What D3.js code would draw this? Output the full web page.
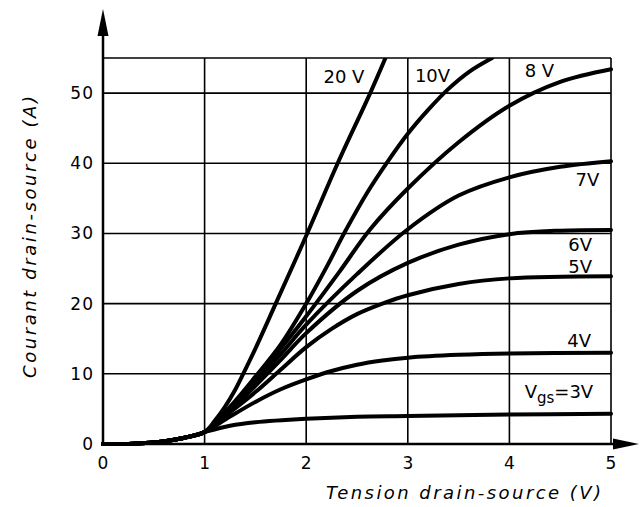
<!DOCTYPE html>
<html>
<head>
<meta charset="utf-8">
<script src="https://cdn.jsdelivr.net/npm/d3@7"></script>
<style>
  body { margin: 0; background: #fff; }
  svg { display: block; }
  text { font-family: "DejaVu Sans", "Liberation Sans", sans-serif; fill: #000; }
  .grid line { stroke: #000; stroke-width: 1.6; }
  .curve { fill: none; stroke: #000; stroke-width: 4; stroke-linecap: round; stroke-linejoin: round; }
</style>
</head>
<body>
<svg width="640" height="507"></svg>
<script>
// shared foot of every curve (all gate voltages overlap below 1 V)
var foot = [[0, 0], [0.3, 0.05], [0.5, 0.2], [0.7, 0.6], [0.85, 1.05], [1, 1.7]];

var vgs3 = [[1.25, 2.6], [1.5, 3.1], [2, 3.6], [2.5, 3.9], [3, 4.0], [4, 4.2], [5, 4.3]];
var vgs4 = [[1.25, 3.9], [1.5, 6.0], [1.75, 7.8], [2, 9.2], [2.25, 10.4], [2.5, 11.3], [2.75, 11.9], [3, 12.3], [3.5, 12.7], [4, 12.9], [5, 13.0]];
var vgs5 = [[1.25, 4.5], [1.5, 7.4], [1.75, 10.6], [2, 13.8], [2.25, 16.4], [2.5, 18.5], [2.75, 20.0], [3, 21.2], [3.5, 22.8], [4, 23.6], [5, 23.9]];
var vgs6 = [[1.25, 4.8], [1.5, 8.3], [1.75, 12], [2, 15.8], [2.5, 21.8], [3, 25.8], [3.5, 28.4], [4, 29.9], [4.5, 30.4], [5, 30.5]];
var vgs7 = [[1.25, 5.0], [1.5, 8.8], [1.75, 12.8], [2, 17.0], [2.5, 24.2], [3, 30.6], [3.5, 35.4], [4, 38.0], [4.5, 39.5], [5, 40.3]];
var vgs8 = [[1.25, 5.1], [1.5, 9.1], [1.75, 13.6], [2, 18.2], [2.33, 24.6], [2.63, 30.6], [3, 36.4], [3.5, 43.0], [4, 48.2], [4.5, 51.6], [5, 53.4]];
var vgs10 = [[1.25, 5.3], [1.5, 9.6], [1.75, 14.2], [2, 20.0], [2.2, 25.2], [2.38, 30.2], [2.6, 35.8], [2.8, 40.2], [3, 44.2], [3.2, 47.6], [3.4, 50.6], [3.6, 53.0], [3.83, 55]];
var vgs20 = [[1.1, 3.3], [1.2, 5.3], [1.3, 7.7], [1.38, 10], [1.5, 13.6], [1.7, 20], [2.01, 30], [2.31, 40], [2.63, 50], [2.78, 55]];

var series = [vgs3, vgs4, vgs5, vgs6, vgs7, vgs8, vgs10, vgs20];

var xTicks = [0, 1, 2, 3, 4, 5];
var yTicks = [0, 10, 20, 30, 40, 50];

// curve labels: text, anchor point in data units (x = left edge, y = baseline)
var labels = [
  { text: "20 V", x: 2.17, y: 51.5 },
  { text: "10V", x: 3.07, y: 51.6 },
  { text: "8 V", x: 4.15, y: 52.3 },
  { text: "7V", x: 4.65, y: 36.8 },
  { text: "6V", x: 4.58, y: 27.5 },
  { text: "5V", x: 4.58, y: 24.4 },
  { text: "4V", x: 4.57, y: 13.8 }
];

var svg = d3.select("svg");

var x = d3.scaleLinear().domain([0, 5]).range([103, 611]);
var y = d3.scaleLinear().domain([0, 55]).range([444, 58]);

// grid
var grid = svg.append("g").attr("class", "grid");
grid.selectAll("line.v")
  .data(xTicks.slice(1))
  .enter().append("line")
  .attr("x1", function(d) { return x(d); })
  .attr("x2", function(d) { return x(d); })
  .attr("y1", y(0))
  .attr("y2", y(55));
grid.selectAll("line.h")
  .data(yTicks.slice(1).concat([55]))
  .enter().append("line")
  .attr("x1", x(0))
  .attr("x2", x(5))
  .attr("y1", function(d) { return y(d); })
  .attr("y2", function(d) { return y(d); });

// axes with arrows
svg.append("line")
  .attr("x1", x(0)).attr("x2", x(0))
  .attr("y1", y(0)).attr("y2", 30)
  .attr("stroke", "#000").attr("stroke-width", 2.5);
svg.append("line")
  .attr("x1", x(0)).attr("x2", 618)
  .attr("y1", y(0)).attr("y2", y(0))
  .attr("stroke", "#000").attr("stroke-width", 2.5);
svg.append("path")
  .attr("d", "M" + x(0) + ",9 L" + (x(0) - 5.5) + ",36 L" + (x(0) + 5.5) + ",36 Z")
  .attr("fill", "#000");
svg.append("path")
  .attr("d", "M639," + y(0) + " L613," + (y(0) - 5.5) + " L613," + (y(0) + 5.5) + " Z")
  .attr("fill", "#000");

// tick labels
svg.selectAll("text.ytick")
  .data(yTicks)
  .enter().append("text")
  .attr("class", "ytick")
  .attr("x", 94)
  .attr("y", function(d) { return y(d) + 6; })
  .attr("text-anchor", "end")
  .attr("font-size", 17)
  .attr("letter-spacing", 1)
  .text(function(d) { return d; });

svg.selectAll("text.xtick")
  .data(xTicks)
  .enter().append("text")
  .attr("class", "xtick")
  .attr("x", function(d) { return x(d); })
  .attr("y", 469)
  .attr("text-anchor", "middle")
  .attr("font-size", 17)
  .text(function(d) { return d; });

// curves
var clip = svg.append("clipPath").attr("id", "plot");
clip.append("rect")
  .attr("x", x(0) - 2).attr("y", y(55))
  .attr("width", x(5) - x(0) + 4).attr("height", y(0) - y(55) + 2);

var line = d3.line()
  .x(function(d) { return x(d[0]); })
  .y(function(d) { return y(d[1]); })
  .curve(d3.curveCatmullRom.alpha(0.5));

svg.append("g")
  .attr("clip-path", "url(#plot)")
  .selectAll("path")
  .data(series)
  .enter().append("path")
  .attr("class", "curve")
  .attr("d", function(d) { return line(foot.concat(d)); });

// curve labels
svg.selectAll("text.lbl")
  .data(labels)
  .enter().append("text")
  .attr("class", "lbl")
  .attr("x", function(d) { return x(d.x); })
  .attr("y", function(d) { return y(d.y); })
  .attr("font-size", 18)
  .text(function(d) { return d.text; });

var vg = svg.append("text")
  .attr("x", x(4.15))
  .attr("y", y(6.6))
  .attr("font-size", 18);
vg.append("tspan").text("V");
vg.append("tspan").attr("dy", 5).attr("font-size", 15).text("gs");
vg.append("tspan").attr("dy", -5).text("=3V");

// axis titles
svg.append("text")
  .attr("x", 326)
  .attr("y", 499)
  .attr("font-size", 18)
  .attr("font-style", "italic")
  .attr("textLength", 275)
  .attr("lengthAdjust", "spacing")
  .text("Tension drain-source (V)");

svg.append("text")
  .attr("transform", "translate(36,378) rotate(-90)")
  .attr("font-size", 18)
  .attr("font-style", "italic")
  .attr("textLength", 282)
  .attr("lengthAdjust", "spacing")
  .text("Courant  drain-source  (A)");
</script>
</body>
</html>
